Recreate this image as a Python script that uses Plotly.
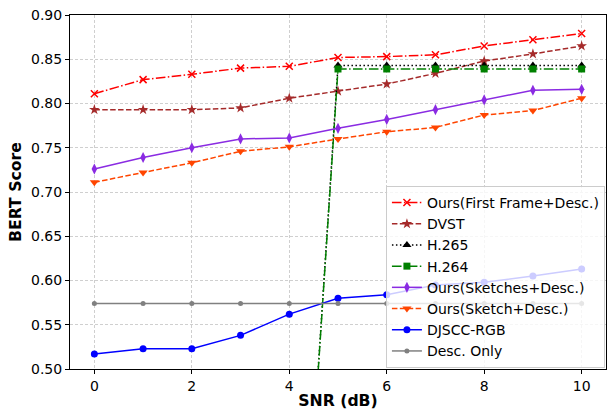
import plotly.graph_objects as go

snr = [0, 1, 2, 3, 4, 5, 6, 7, 8, 9, 10]
ours_first = [0.811, 0.827, 0.833, 0.840, 0.842, 0.852, 0.853, 0.855, 0.865, 0.872, 0.879]
dvst = [0.793, 0.793, 0.793, 0.795, 0.806, 0.814, 0.822, 0.834, 0.848, 0.856, 0.865]
h265 = [0.0, 0.0, 0.0, 0.0, 0.0, 0.843, 0.843, 0.843, 0.843, 0.843, 0.843]
h264 = [0.0, 0.0, 0.0, 0.0, 0.0, 0.839, 0.839, 0.839, 0.839, 0.839, 0.839]
ours_sketches = [0.726, 0.739, 0.750, 0.760, 0.761, 0.772, 0.782, 0.793, 0.804, 0.815, 0.816]
ours_sketch = [0.711, 0.722, 0.733, 0.746, 0.751, 0.760, 0.768, 0.773, 0.787, 0.792, 0.806]
djscc = [0.517, 0.523, 0.523, 0.538, 0.562, 0.580, 0.584, 0.595, 0.598, 0.605, 0.613]
desc_only = [0.574] * 11

DASHED = "5.5px,2.4px"
DASHDOT = "9.6px,2.4px,1.5px,2.4px"
DOTTED = "1.5px,2.5px"

series = [
    ("Ours(First Frame+Desc.)", ours_first, "#ff0000", DASHDOT, "x-thin", 7),
    ("DVST", dvst, "#a52a2a", DASHED, "star", 8),
    ("H.265", h265, "#000000", DOTTED, "triangle-up", 8),
    ("H.264", h264, "#008000", DASHDOT, "square", 7),
    ("Ours(Sketches+Desc.)", ours_sketches, "#8a2be2", "solid", "diamond-tall", 8),
    ("Ours(Sketch+Desc.)", ours_sketch, "#ff4500", DASHED, "triangle-down", 8),
    ("DJSCC-RGB", djscc, "#0000ff", "solid", "circle", 7),
    ("Desc. Only", desc_only, "#808080", "solid", "circle", 5),
]

fig = go.Figure()
for name, ys, color, dash, sym, size in series:
    fig.add_trace(go.Scatter(
        x=snr, y=ys, name=name, mode="lines+markers",
        line=dict(color=color, dash=dash, width=1.5),
        marker=dict(symbol=sym, size=size, color=color,
                    line=dict(color=color, width=1.5 if sym == "x-thin" else 0)),
    ))

axis_common = dict(
    showline=True, linecolor="black", linewidth=1, mirror=True,
    ticks="outside", ticklen=4, tickcolor="black",
    showgrid=True, gridcolor="#cfcfcf", griddash="3px,2px", gridwidth=0.8,
    zeroline=False,
    tickfont=dict(family="DejaVu Sans", size=14, color="black"),
)

title_font = dict(family="DejaVu Sans", size=15.7, color="black")

fig.update_xaxes(
    range=[-0.5, 10.5], tickvals=[0, 2, 4, 6, 8, 10],
    title=dict(text="<b>SNR (dB)</b>", font=title_font, standoff=3),
    **axis_common,
)
fig.update_yaxes(
    range=[0.5, 0.9], tickvals=[0.5, 0.55, 0.6, 0.65, 0.7, 0.75, 0.8, 0.85, 0.9],
    tickformat=".2f",
    title=dict(text="<b>BERT Score</b>", font=title_font, standoff=5),
    **axis_common,
)

fig.update_layout(
    width=608, height=410,
    margin=dict(l=70, r=2, t=15, b=41),
    plot_bgcolor="white", paper_bgcolor="white",
    font=dict(family="DejaVu Sans", color="black"),
    legend=dict(
        x=0.998, y=0.003, xanchor="right", yanchor="bottom",
        bgcolor="rgba(255,255,255,0.8)", bordercolor="#cccccc", borderwidth=1,
        font=dict(family="DejaVu Sans", size=14, color="black"),
        itemwidth=30, tracegroupgap=0,
    ),
)

fig.write_html("out.html")
